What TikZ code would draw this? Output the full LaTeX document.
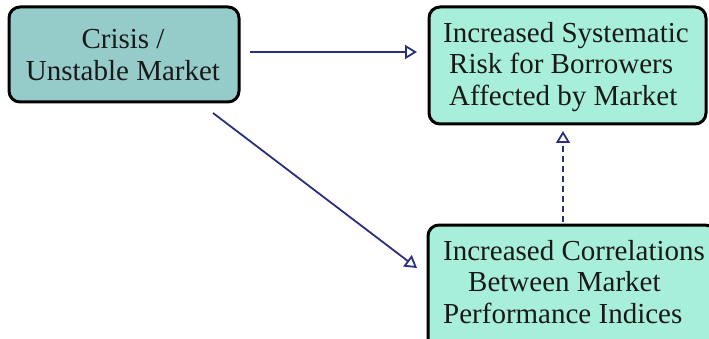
\documentclass[tikz,border=0pt]{standalone}
\usepackage{fontspec}
\setmainfont{Liberation Serif}
\usetikzlibrary{arrows.meta}
\definecolor{boxA}{HTML}{95CCCA}
\definecolor{boxB}{HTML}{A7EFDB}
\definecolor{arr}{HTML}{2A2E7E}
\begin{document}
\begin{tikzpicture}[x=1pt,y=-1pt,
  box/.style={draw=black,line width=3pt,rounded corners=11pt,inner sep=0pt},
  lbl/.style={align=center,font=\fontsize{29}{31.5}\selectfont,text=black!90,inner sep=0pt},
  lblL/.style={lbl,align=left,anchor=west},
  conn/.style={draw=arr,line width=1.8pt,-{Triangle[open,length=12pt,width=14pt,line width=1.8pt]}}]
\useasboundingbox (0,0) rectangle (709,339);
\begin{scope}
\clip (0,0) rectangle (709,339);
\filldraw[box,fill=boxA] (9,7) rectangle (239,102);
\filldraw[box,fill=boxB] (429,7) rectangle (706,124);
\filldraw[box,fill=boxB] (428,225) rectangle (716,350);
\end{scope}
\node[lbl] (a) at (123,55) {Crisis /\\Unstable Market};
\node[lblL] (b) at (443,67) {Increased Systematic\\\hspace*{6pt}Risk for Borrowers\\\hspace*{6pt}Affected by Market};
\node[lblL] (c) at (443,282) {Increased Correlations\\\hspace*{25pt}Between Market\\Performance Indices};
\coordinate (a1) at (250,52);
\coordinate (b1) at (417,52);
\coordinate (a2) at (213,113);
\coordinate (c1) at (417,268);
\coordinate (c2) at (563,222);
\coordinate (b2) at (563,131);
\draw[conn] (a1) -- (b1);
\draw[conn] (a2) -- (c1);
\draw[conn,dash pattern=on 6pt off 4pt] (c2) -- (b2);
\end{tikzpicture}
\end{document}
